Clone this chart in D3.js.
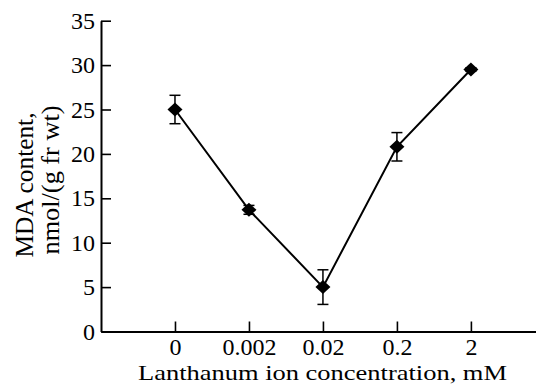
<!DOCTYPE html>
<html>
<head>
<meta charset="utf-8">
<script src="https://cdn.jsdelivr.net/npm/d3@7"></script>
<style>
  body { margin: 0; background: #fff; }
  svg text { font-family: "Liberation Serif", "DejaVu Serif", serif; fill: #000; }
</style>
</head>
<body>
<div id="chart"></div>
<script>
// Data
var categories = ["0", "0.002", "0.02", "0.2", "2"];
var mdaValues = [25.0, 13.7, 5.0, 20.8, 29.5];
var mdaErrors = [1.6, 0.5, 1.95, 1.6, 0.2];
var yTicks = [0, 5, 10, 15, 20, 25, 30, 35];

var width = 536, height = 387;
var svg = d3.select("#chart").append("svg")
  .attr("width", width)
  .attr("height", height);

// Scales
var xScale = d3.scaleLinear()
  .domain([-1, 4.88])
  .range([101, 536]);
var yScale = d3.scaleLinear()
  .domain([0, 35])
  .range([331.5, 20.7]);

// Y axis, ticks pointing inward
var yAxis = svg.append("g")
  .attr("transform", "translate(101,0)")
  .call(d3.axisLeft(yScale).tickValues(yTicks).tickSizeInner(-10).tickSizeOuter(0).tickPadding(6));
yAxis.select(".domain").attr("stroke-width", 2);
yAxis.selectAll(".tick line").attr("stroke-width", 1.6);
yAxis.selectAll(".tick text").attr("font-size", 24);

// X axis, ticks pointing inward
var xAxis = svg.append("g")
  .attr("transform", "translate(0,331.5)")
  .call(d3.axisBottom(xScale)
    .tickValues(d3.range(categories.length))
    .tickFormat(function(i) { return categories[i]; })
    .tickSizeInner(-10).tickSizeOuter(0).tickPadding(6));
xAxis.select(".domain").attr("stroke-width", 2);
xAxis.selectAll(".tick line").attr("stroke-width", 1.6);
xAxis.selectAll(".tick text").attr("font-size", 24);

// Axis titles
svg.append("text")
  .attr("x", 322.5)
  .attr("y", 380)
  .attr("text-anchor", "middle")
  .attr("font-size", 22)
  .attr("textLength", 369)
  .attr("lengthAdjust", "spacingAndGlyphs")
  .text("Lanthanum ion concentration, mM");
svg.append("text")
  .attr("text-anchor", "middle")
  .attr("transform", "translate(33,185)rotate(-90)")
  .attr("font-size", 25)
  .attr("textLength", 145)
  .attr("lengthAdjust", "spacingAndGlyphs")
  .text("MDA content,");
svg.append("text")
  .attr("text-anchor", "middle")
  .attr("transform", "translate(59,180)rotate(-90)")
  .attr("font-size", 25)
  .attr("textLength", 149)
  .attr("lengthAdjust", "spacingAndGlyphs")
  .text("nmol/(g fr wt)");

var pts = mdaValues.map(function(v, i) { return [i, v, mdaErrors[i]]; });

// Line
var line = d3.line()
  .x(function(d) { return xScale(d[0]); })
  .y(function(d) { return yScale(d[1]); });
svg.append("path")
  .datum(pts)
  .attr("fill", "none")
  .attr("stroke", "#000")
  .attr("stroke-width", 2)
  .attr("d", line);

// Error bars
var err = svg.append("g").attr("stroke", "#000").attr("stroke-width", 1.5);
pts.forEach(function(d) {
  var cx = xScale(d[0]);
  var top = yScale(d[1] + d[2]), bot = yScale(d[1] - d[2]);
  err.append("line").attr("x1", cx).attr("x2", cx).attr("y1", top).attr("y2", bot);
  err.append("line").attr("x1", cx - 5.5).attr("x2", cx + 5.5).attr("y1", top).attr("y2", top);
  err.append("line").attr("x1", cx - 5.5).attr("x2", cx + 5.5).attr("y1", bot).attr("y2", bot);
});

// Diamond markers
svg.append("g").selectAll("path")
  .data(pts)
  .enter().append("path")
  .attr("transform", function(d) { return "translate(" + xScale(d[0]) + "," + yScale(d[1]) + ")"; })
  .attr("d", "M0,-7L7.5,0L0,7L-7.5,0Z")
  .attr("fill", "#000");
</script>
</body>
</html>
